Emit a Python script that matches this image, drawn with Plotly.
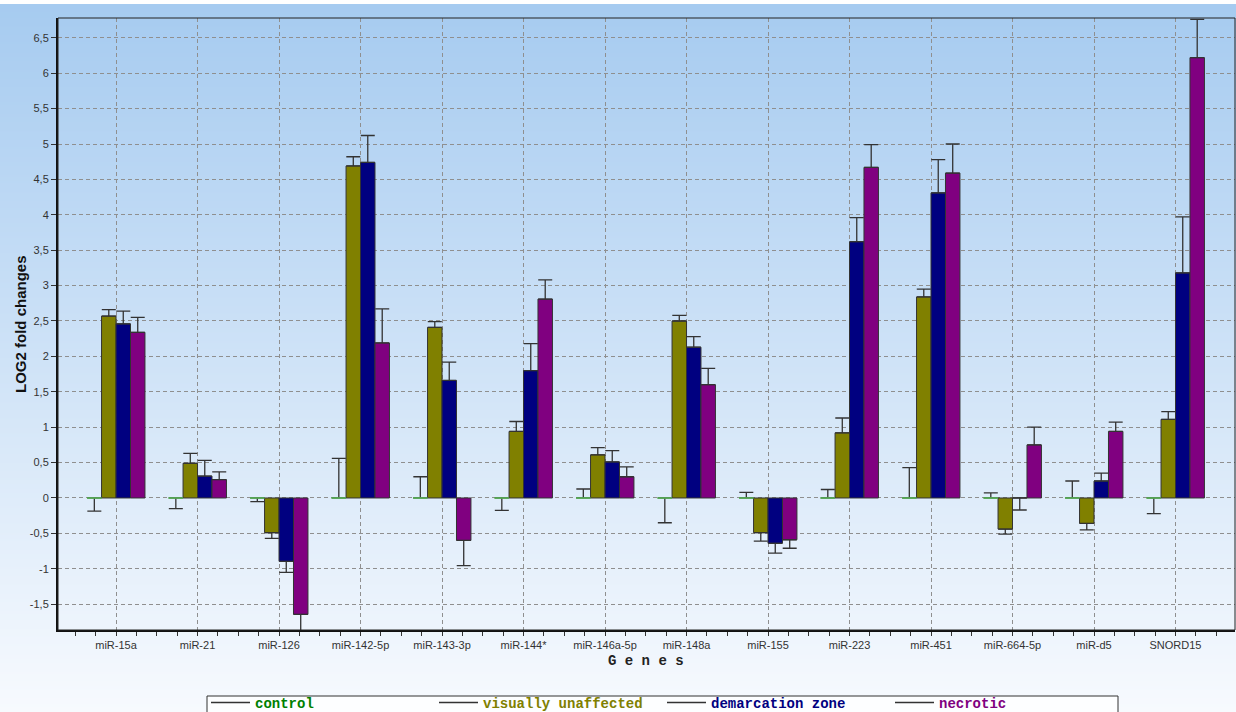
import base64
import struct
import zlib
import plotly.graph_objects as go

# ---------------- data ----------------
genes = ["miR-15a", "miR-21", "miR-126", "miR-142-5p", "miR-143-3p", "miR-144*",
         "miR-146a-5p", "miR-148a", "miR-155", "miR-223", "miR-451", "miR-664-5p",
         "miR-d5", "SNORD15"]

control = [0, 0, 0, 0, 0, 0, 0, 0, 0, 0, 0, 0, 0, 0]
visually_unaffected = [2.57, 0.49, -0.49, 4.69, 2.41, 0.94, 0.61, 2.50, -0.49, 0.92, 2.84, -0.44, -0.36, 1.11]
demarcation_zone = [2.46, 0.31, -0.895, 4.74, 1.66, 1.80, 0.51, 2.13, -0.64, 3.62, 4.31, 0.0, 0.24, 3.18]
necrotic = [2.34, 0.26, -1.645, 2.19, -0.60, 2.81, 0.30, 1.60, -0.59, 4.67, 4.59, 0.75, 0.94, 6.22]

# signed error-bar lengths (positive = drawn upward, negative = drawn downward)
control_err = [-0.185, -0.15, -0.053, 0.56, 0.30, -0.175, 0.127, -0.35, 0.08, 0.12, 0.43, 0.073, 0.24, -0.22]
visually_unaffected_err = [0.09, 0.14, -0.08, 0.13, 0.08, 0.14, 0.10, 0.08, -0.12, 0.21, 0.11, -0.07, -0.09, 0.11]
demarcation_zone_err = [0.18, 0.22, -0.155, 0.38, 0.26, 0.38, 0.16, 0.15, -0.14, 0.34, 0.47, -0.17, 0.11, 0.79]
necrotic_err = [0.21, 0.11, -0.35, 0.48, -0.355, 0.27, 0.14, 0.23, -0.12, 0.32, 0.41, 0.25, 0.13, 0.54]

series_names = ["control", "visually unaffected", "demarcation zone", "necrotic"]
y_ticks = [-1.5, -1, -0.5, 0, 0.5, 1, 1.5, 2, 2.5, 3, 3.5, 4, 4.5, 5, 5.5, 6, 6.5]
y_tick_labels = ["-1,5", "-1", "-0,5", "0", "0,5", "1", "1,5", "2", "2,5", "3", "3,5",
                 "4", "4,5", "5", "5,5", "6", "6,5"]

# ---------------- style ----------------
bar_colors = ["#5cb85c", "#808000", "#000080", "#800080"]
text_colors = ["#008000", "#808000", "#000080", "#800080"]
W, H = 1236, 712
L, R, T, B = 58, 1, 18, 82


def gradient_png(h):
    top = (166, 203, 240)
    bot = (247, 250, 254)
    raw = bytearray()
    for y in range(h):
        if y < 4:
            c = (255, 255, 255)
        else:
            t = (y - 4) / (h - 5)
            c = tuple(int(round(top[i] + (bot[i] - top[i]) * t)) for i in range(3))
        raw += b"\x00" + bytes(c)

    def chunk(tag, data):
        return (struct.pack(">I", len(data)) + tag + data +
                struct.pack(">I", zlib.crc32(tag + data) & 0xFFFFFFFF))

    png = (b"\x89PNG\r\n\x1a\n" +
           chunk(b"IHDR", struct.pack(">IIBBBBB", 1, h, 8, 2, 0, 0, 0)) +
           chunk(b"IDAT", zlib.compress(bytes(raw))) +
           chunk(b"IEND", b""))
    return "data:image/png;base64," + base64.b64encode(png).decode()


xpos = list(range(len(genes)))
fig = go.Figure()

all_vals = [control, visually_unaffected, demarcation_zone, necrotic]
all_errs = [control_err, visually_unaffected_err, demarcation_zone_err, necrotic_err]

for k, (name, vals, errs, col) in enumerate(zip(series_names, all_vals, all_errs, bar_colors)):
    fig.add_trace(go.Bar(
        x=xpos, y=vals, name=name, showlegend=False, offsetgroup=str(k),
        marker=dict(color=col, line=dict(color=col if k == 0 else "#333333", width=1)),
        error_y=dict(type="data", symmetric=False,
                     array=[max(e, 0) for e in errs],
                     arrayminus=[max(-e, 0) for e in errs],
                     color="#333333", thickness=1.3, width=7),
    ))

# the control bars (zero height) drawn again on top so their green edge covers the error-bar foot
fig.add_trace(go.Bar(
    x=xpos, y=control, name="control", showlegend=False, offsetgroup="0",
    marker=dict(color=bar_colors[0], line=dict(color=bar_colors[0], width=1.6)),
    hoverinfo="skip",
))

# legend entries (error-bar style line symbol, coloured labels)
for name, tc in zip(series_names, text_colors):
    fig.add_trace(go.Scatter(
        x=[None], y=[None], mode="lines", line=dict(color="#333333", width=1.5),
        name=f"<b><span style='color:{tc}'>{name}</span></b>", showlegend=True,
    ))

pw = W - L - R
ph = H - T - B


def px_x(p):
    return (p - L) / pw


def px_y(p):
    return (ph + T - p) / ph


grid_dash = "4px,3px"

fig.update_layout(
    width=W, height=H,
    margin=dict(l=L, r=R, t=T, b=B, autoexpand=False),
    paper_bgcolor="white",
    plot_bgcolor="rgba(0,0,0,0)",
    barmode="group", bargap=0.29, bargroupgap=0,
    font=dict(family="Liberation Sans, Arial", size=11, color="#333333"),
    images=[dict(source=gradient_png(H), xref="paper", yref="paper",
                 x=px_x(0), y=px_y(0), sizex=W / pw, sizey=H / ph,
                 xanchor="left", yanchor="top", sizing="stretch", layer="below")],
    xaxis=dict(
        range=[-0.712, 13.73], tickmode="array", tickvals=xpos, ticktext=genes,
        showgrid=True, gridcolor="#8f8f8f", griddash=grid_dash, gridwidth=1,
        zeroline=False, showline=True, linecolor="#111111", linewidth=2,
        ticks="outside", ticklen=4, tickcolor="#333333",
        minor=dict(tick0=0, dtick=0.25, ticks="outside", ticklen=4, tickcolor="#333333", showgrid=False),
        tickfont=dict(family="Liberation Sans, Arial", size=11, color="#333333"),
    ),
    yaxis=dict(
        range=[-1.865, 6.78], tickmode="array", tickvals=y_ticks, ticktext=y_tick_labels,
        showgrid=True, gridcolor="#8f8f8f", griddash=grid_dash, gridwidth=1,
        zeroline=False, showline=True, linecolor="#111111", linewidth=2,
        ticks="outside", ticklen=5, tickcolor="#333333",
        tickfont=dict(family="Liberation Sans, Arial", size=11, color="#333333"),
    ),
    shapes=[
        dict(type="rect", xref="paper", yref="paper", x0=0, x1=1, y0=0, y1=1,
             line=dict(color="#222222", width=1), fillcolor="rgba(0,0,0,0)", layer="above"),
        # legend frame
        dict(type="rect", xref="paper", yref="paper", x0=px_x(207), x1=px_x(1118),
             y0=px_y(720), y1=px_y(696),
             line=dict(color="#333333", width=1), fillcolor="rgba(255,255,255,0.75)", layer="above"),
    ],
    annotations=[
        dict(text="<b>LOG2 fold changes</b>", xref="paper", yref="paper",
             x=px_x(20), y=0.5, xanchor="center", yanchor="middle", textangle=-90,
             showarrow=False, font=dict(family="Liberation Sans, Arial", size=15, color="#111111")),
        dict(text="<b>G e n e s</b>", xref="paper", yref="paper",
             x=px_x(646), y=px_y(661), xanchor="center", yanchor="middle",
             showarrow=False, font=dict(family="Liberation Mono, Courier New", size=14, color="#222222")),
    ],
    legend=dict(
        orientation="h", x=px_x(206), y=px_y(687), xanchor="left", yanchor="top",
        bgcolor="rgba(0,0,0,0)", borderwidth=0,
        font=dict(family="Liberation Mono, Courier New", size=14),
        entrywidth=174, entrywidthmode="pixels", itemwidth=39,
        tracegroupgap=0,
    ),
)

fig.write_html("out.html", config={"displayModeBar": False},
               post_script="document.body.style.margin='0';document.body.style.overflow='hidden';")
